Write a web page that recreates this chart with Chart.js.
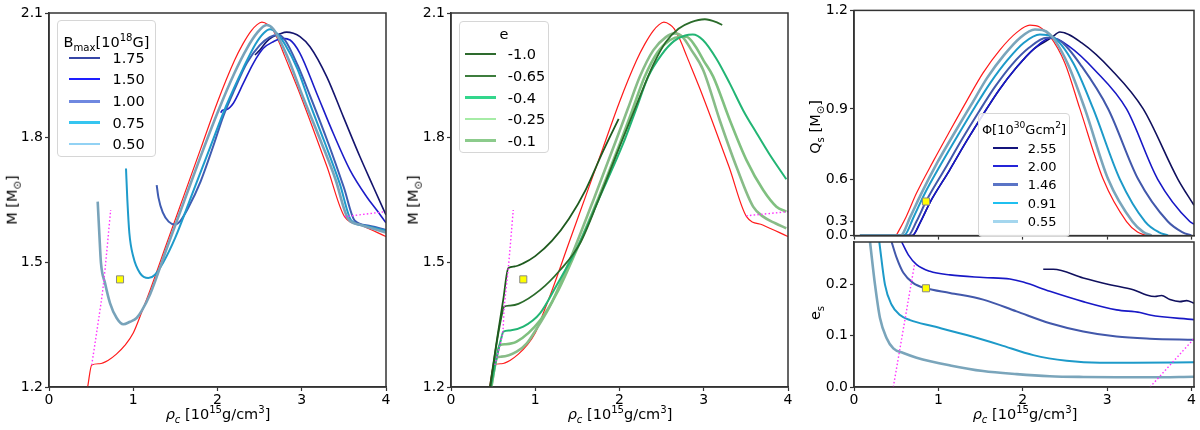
<!DOCTYPE html>
<html lang="en">
<head>
<meta charset="UTF-8">
<title>M, Qs and es versus central density</title>
<script src="https://cdn.jsdelivr.net/npm/chart.js"></script>
<style>
  html, body { margin: 0; padding: 0; background: #fff; }
  body { font-family: "DejaVu Sans", sans-serif; color: #000; }
  #fig { position: relative; width: 1200px; height: 430px; overflow: hidden; }
  #fig canvas { position: absolute; }
  .lbl { position: absolute; font-size: 14.5px; white-space: nowrap; line-height: 1; }
  .ylbl { transform: translate(-50%, -50%) rotate(-90deg); }
  .xlbl { transform: translate(-50%, -50%); }
  sub, sup { font-size: 70%; line-height: 0; }
  .legend { position: absolute; background: rgba(255,255,255,0.85); border: 1px solid #d6d6d6; border-radius: 4px; box-sizing: border-box; }
  .legend .title { position: absolute; left: 0; right: 0; text-align: center; line-height: 1; transform: translateY(-50%); white-space: nowrap; }
  .legend .sw { position: absolute; }
  .legend .txt { position: absolute; line-height: 1; transform: translateY(-50%); }
</style>
</head>
<body>
<div id="fig">
  <canvas id="c1" width="400" height="430" style="left:0;top:0"></canvas>
  <canvas id="c2" width="400" height="430" style="left:400px;top:0"></canvas>
  <canvas id="c3" width="400" height="246" style="left:800px;top:0"></canvas>
  <canvas id="c4" width="400" height="200" style="left:800px;top:230px"></canvas>

  <div class="lbl ylbl" style="left:12px;top:200px">M [M<sub>⊙</sub>]</div>
  <div class="lbl ylbl" style="left:413px;top:200px">M [M<sub>⊙</sub>]</div>
  <div class="lbl ylbl" style="left:815px;top:127px">Q<sub>s</sub> [M<sub>⊙</sub>]</div>
  <div class="lbl ylbl" style="left:815px;top:313px">e<sub>s</sub></div>
  <div class="lbl xlbl" style="left:218px;top:414px"><i>ρ<sub>c</sub></i> [10<sup>15</sup>g/cm<sup>3</sup>]</div>
  <div class="lbl xlbl" style="left:620px;top:414px"><i>ρ<sub>c</sub></i> [10<sup>15</sup>g/cm<sup>3</sup>]</div>
  <div class="lbl xlbl" style="left:1025px;top:414px"><i>ρ<sub>c</sub></i> [10<sup>15</sup>g/cm<sup>3</sup>]</div>
</div>

<script>
// ---- ticks / legend labels ----
const rhoTicks = [0, 1, 2, 3, 4];
const mTicks = [1.2, 1.5, 1.8, 2.1];
const qTicks = [0, 0.3, 0.6, 0.9, 1.2];
const esTicks = [0, 0.1, 0.2];
const bLabels = ['1.75', '1.50', '1.00', '0.75', '0.50'];
const eLabels = ['-1.0', '-0.65', '-0.4', '-0.25', '-0.1'];
const phiLabels = ['2.55', '2.00', '1.46', '0.91', '0.55'];

// ---- red reference curve (M vs rho_c), panels 1 and 2 ----
const rhoRed = [0.459,0.507,0.6,0.7,0.8,0.9,1.0,1.1,1.2,1.4,1.6,1.8,2.0,2.2,2.3,2.4,2.47,2.527,2.6,2.65,2.72,2.8,2.95,3.1,3.3,3.508,3.7,4.0];
const mRed   = [1.200,1.253,1.256,1.264,1.279,1.300,1.330,1.380,1.433,1.547,1.660,1.773,1.886,1.985,2.025,2.057,2.072,2.078,2.072,2.062,2.035,1.995,1.920,1.840,1.730,1.610,1.590,1.562];

// ---- panel 1: B_max curves ----
const rhoB050 = [0.578,0.597,0.617,0.665,0.724,0.803,0.882,0.961,1.04,1.1,1.2,1.4,1.6,1.8,2.0,2.2,2.35,2.47,2.584,2.66,2.72,2.85,3.0,3.237,3.4,3.55,3.7,4.0];
const mB050   = [1.646,1.570,1.498,1.450,1.402,1.366,1.351,1.357,1.366,1.383,1.423,1.535,1.645,1.755,1.860,1.955,2.015,2.052,2.071,2.062,2.042,1.985,1.905,1.786,1.700,1.605,1.590,1.572];
const rhoB075 = [0.914,0.93,0.954,1.0,1.08,1.179,1.258,1.357,1.5,1.7,1.9,2.1,2.3,2.45,2.55,2.624,2.7,2.8,2.95,3.1,3.277,3.45,3.59,3.75,4.0];
const mB075   = [1.726,1.650,1.570,1.514,1.474,1.462,1.470,1.500,1.560,1.665,1.770,1.875,1.965,2.025,2.052,2.061,2.052,2.025,1.965,1.880,1.786,1.690,1.600,1.588,1.576];
const rhoB100 = [1.278,1.30,1.35,1.42,1.497,1.56,1.65,1.8,1.95,2.069,2.2,2.35,2.5,2.62,2.723,2.8,2.95,3.1,3.316,3.5,3.63,3.8,4.0];
const mB100   = [1.686,1.655,1.620,1.598,1.591,1.600,1.630,1.695,1.780,1.852,1.915,1.980,2.022,2.042,2.047,2.035,1.975,1.900,1.786,1.680,1.600,1.588,1.578];
const rhoB150 = [2.038,2.06,2.109,2.188,2.307,2.425,2.544,2.663,2.774,2.861,2.979,3.177,3.375,3.573,3.77,3.889,4.0];
const mB150   = [1.860,1.866,1.868,1.883,1.931,1.979,2.015,2.031,2.039,2.035,2.003,1.907,1.810,1.722,1.658,1.626,1.595];
const rhoB175 = [2.445,2.5,2.583,2.65,2.742,2.82,2.9,2.979,3.098,3.296,3.494,3.691,3.849,4.0];
const mB175   = [1.999,2.010,2.031,2.042,2.050,2.054,2.051,2.043,2.019,1.947,1.850,1.754,1.682,1.614];
const rhoDotL1 = [0.507,0.567,0.645,0.732];
const mDotL1   = [1.253,1.333,1.445,1.626];
const rhoDotR1 = [3.51,4.0];
const mDotR1   = [1.610,1.622];

// ---- panel 2: e curves ----
const rhoE100 = [0.462,0.55,0.62,0.68,0.75,0.85,1.0,1.2,1.4,1.6,1.8,1.99];
const mE100   = [1.200,1.320,1.410,1.486,1.490,1.497,1.515,1.552,1.605,1.675,1.765,1.845];
const rhoE065 = [0.468,0.53,0.60,0.629,0.7,0.8,1.056,1.293,1.53,1.75,2.0,2.2,2.4,2.55,2.7,2.85,3.013,3.15,3.219];
const mE065   = [1.200,1.290,1.370,1.393,1.396,1.400,1.433,1.481,1.545,1.650,1.778,1.878,1.975,2.030,2.062,2.078,2.085,2.078,2.071];
const rhoE040 = [0.472,0.54,0.60,0.621,0.7,0.858,1.056,1.254,1.51,1.75,2.044,2.2,2.341,2.5,2.65,2.78,2.87,2.99,3.15,3.31,3.47,3.63,3.78,3.98];
const mE040   = [1.200,1.270,1.320,1.333,1.336,1.345,1.377,1.445,1.540,1.650,1.786,1.870,1.947,2.000,2.033,2.046,2.048,2.035,1.990,1.930,1.865,1.810,1.760,1.700];
const rhoE025 = [0.476,0.54,0.581,0.65,0.779,1.056,1.254,1.48,1.75,2.005,2.15,2.30,2.45,2.6,2.72,2.795,2.9,3.0,3.112,3.31,3.507,3.705,3.863,3.98];
const mE025   = [1.200,1.270,1.301,1.303,1.309,1.360,1.425,1.525,1.655,1.786,1.865,1.947,2.005,2.035,2.043,2.043,2.020,1.985,1.947,1.842,1.746,1.674,1.634,1.622];
const rhoE010 = [0.48,0.52,0.542,0.6,0.779,0.9,1.0,1.2,1.45,1.7,1.945,2.1,2.242,2.4,2.55,2.657,2.75,2.85,2.993,3.19,3.388,3.586,3.705,3.85,3.98];
const mE010   = [1.200,1.250,1.271,1.273,1.285,1.305,1.335,1.405,1.525,1.655,1.786,1.870,1.947,2.010,2.042,2.051,2.042,2.012,1.963,1.842,1.730,1.634,1.610,1.594,1.582];
const rhoDotL2 = [0.52,0.542,0.581,0.615,0.632,0.68,0.739];
const mDotL2   = [1.253,1.271,1.301,1.333,1.393,1.486,1.626];
const rhoDotR2 = [3.506,4.0];
const mDotR2   = [1.612,1.622];

// ---- panel 3 top: Q_s curves ----
const rhoQRed = [0.50,0.62,0.74,0.94,1.14,1.34,1.53,1.73,1.93,2.085,2.2,2.32,2.5,2.678,2.954,3.23,3.36,3.467];
const qRed    = [0,0.35,0.52,0.69,0.82,0.93,1.02,1.09,1.14,1.16,1.155,1.13,1.05,0.90,0.60,0.30,0.15,0];
const rhoQ055 = [0.07,0.55,0.67,0.79,0.99,1.19,1.39,1.58,1.78,1.97,2.145,2.32,2.53,2.737,3.013,3.30,3.43,3.527];
const q055    = [0,0,0.35,0.51,0.685,0.81,0.915,1.005,1.075,1.125,1.148,1.135,1.05,0.90,0.60,0.30,0.15,0];
const rhoQ091 = [0.07,0.59,0.71,0.83,1.03,1.23,1.43,1.62,1.82,2.01,2.204,2.35,2.6,2.836,3.152,3.45,3.61,3.724];
const q091    = [0,0,0.35,0.51,0.675,0.80,0.905,0.99,1.06,1.11,1.134,1.128,1.05,0.90,0.60,0.30,0.15,0];
const rhoQ146 = [0.07,0.64,0.74,0.853,1.08,1.28,1.48,1.67,1.87,2.07,2.283,2.45,2.7,3.013,3.369,3.72,3.89,4.0];
const q146    = [0,0,0.30,0.467,0.655,0.785,0.89,0.975,1.045,1.095,1.125,1.115,1.04,0.90,0.60,0.30,0.15,0];
const rhoQ200 = [0.07,0.69,0.79,0.90,1.13,1.33,1.53,1.72,1.92,2.12,2.342,2.55,2.85,3.23,3.60,3.98,4.03];
const q200    = [0,0,0.30,0.46,0.645,0.775,0.88,0.965,1.035,1.09,1.125,1.10,1.03,0.90,0.60,0.30,0.27];
const rhoQ255 = [0.07,0.69,0.79,0.90,1.13,1.33,1.53,1.72,1.92,2.12,2.342,2.44,2.7,3.05,3.428,3.84,4.03];
const q255    = [0,0,0.30,0.46,0.645,0.775,0.88,0.965,1.035,1.09,1.125,1.141,1.11,1.03,0.90,0.60,0.44];

// ---- panel 3 bottom: e_s curves ----
const rhoS055 = [0.19,0.249,0.308,0.387,0.466,0.585,0.742,1.14,1.53,1.93,2.32,2.72,3.11,3.5,4.03];
const s055    = [0.282,0.199,0.134,0.095,0.075,0.066,0.057,0.042,0.031,0.025,0.021,0.0195,0.019,0.019,0.020];
const rhoS091 = [0.30,0.367,0.446,0.545,0.664,0.94,1.335,1.73,2.125,2.52,2.915,3.31,4.03];
const s091    = [0.282,0.199,0.160,0.140,0.130,0.118,0.101,0.082,0.062,0.051,0.047,0.047,0.048];
const rhoS146 = [0.446,0.506,0.585,0.703,0.853,1.137,1.532,1.927,2.322,2.717,3.112,3.507,4.03];
const s146    = [0.282,0.251,0.222,0.202,0.192,0.183,0.170,0.147,0.124,0.108,0.098,0.094,0.092];
const rhoS200 = [0.565,0.644,0.742,0.90,1.137,1.532,1.848,2.006,2.322,2.717,3.112,3.39,3.507,4.03];
const s200    = [0.282,0.257,0.238,0.225,0.218,0.213,0.210,0.204,0.186,0.166,0.150,0.145,0.140,0.131];
const rhoS255 = [2.243,2.362,2.717,3.033,3.31,3.468,3.566,3.645,3.744,3.863,3.942,4.03];
const s255    = [0.229,0.229,0.212,0.199,0.189,0.179,0.176,0.178,0.170,0.166,0.168,0.163];
const rhoDotL4 = [0.466,0.72];
const sDotL4   = [0,0.241];
const rhoDotR4 = [3.51,4.03];
const sDotR4   = [0,0.094];

// yellow markers: panel 1, panel 2, panel 3 top, panel 3 bottom
const markRho = [0.843, 0.858, 0.853, 0.853];
const markVal = [1.459, 1.459, 0.467, 0.192];

// ---------------------------------------------------------------
// y axis of the Q_s panel is quadratic (position ~ Q^2)
class SquareScale extends Chart.LinearScale {
  getPixelForValue(value) {
    const hi = this.max * this.max, lo = this.min * this.min;
    return this.getPixelForDecimal((value * value - lo) / (hi - lo));
  }
  getValueForPixel(pixel) {
    const d = this.getDecimalForPixel(pixel);
    return Math.sqrt(this.min * this.min + d * (this.max * this.max - this.min * this.min));
  }
}
SquareScale.id = 'square';
SquareScale.defaults = Chart.LinearScale.defaults;
Chart.register(SquareScale);

const framePlugin = {
  id: 'frame',
  afterDraw(chart) {
    const a = chart.chartArea, ctx = chart.ctx;
    ctx.save();
    ctx.strokeStyle = '#333';
    ctx.lineWidth = 1.5;
    ctx.strokeRect(a.left, a.top, a.right - a.left, a.bottom - a.top);
    ctx.restore();
  }
};

const tickFont = { family: 'DejaVu Sans', size: 14 };

function pts(xs, ys) {
  return xs.map((x, i) => ({ x: x, y: ys[i] }));
}
function curve(xs, ys, color, width) {
  return { data: pts(xs, ys), borderColor: color, borderWidth: width, pointRadius: 0,
           showLine: true, fill: false, cubicInterpolationMode: 'monotone' };
}
function dotted(xs, ys) {
  return { data: pts(xs, ys), borderColor: '#ff33ff', borderWidth: 1.4, borderDash: [1.5, 2.2],
           pointRadius: 0, showLine: true, fill: false, tension: 0.3 };
}
function marker(i) {
  return { data: [{ x: markRho[i], y: markVal[i] }], showLine: false, pointStyle: 'rect',
           pointRadius: 5, pointBackgroundColor: '#ffff00', pointBorderColor: '#888', pointBorderWidth: 1 };
}

function xAxis(max, labels, height) {
  return {
    type: 'linear', min: 0, max: max,
    afterBuildTicks: s => { s.ticks = rhoTicks.map(v => ({ value: v })); },
    afterFit: s => { s.height = height; },
    ticks: { display: labels, color: '#000', font: tickFont, padding: 1, maxRotation: 0, autoSkip: false,
             callback: v => String(v) },
    grid: { drawOnChartArea: false, tickLength: 4, tickColor: '#333', tickWidth: 1.2 },
    border: { color: '#333', width: 1.5 }
  };
}
function yAxis(type, min, max, ticks, width, digits) {
  return {
    type: type, min: min, max: max,
    afterBuildTicks: s => { s.ticks = ticks.map(v => ({ value: v })); },
    afterFit: s => { s.width = width; },
    ticks: { color: '#000', font: tickFont, padding: 2, autoSkip: false, callback: v => v.toFixed(digits) },
    grid: { drawOnChartArea: false, tickLength: 4, tickColor: '#333', tickWidth: 1.2 },
    border: { color: '#333', width: 1.5 }
  };
}
function makeChart(id, datasets, x, y, padding) {
  return new Chart(document.getElementById(id), {
    type: 'scatter',
    data: { datasets: datasets },
    options: {
      responsive: false, animation: false, events: [], devicePixelRatio: 1,
      layout: { padding: padding },
      plugins: { legend: { display: false }, tooltip: { enabled: false } },
      scales: { x: x, y: y }
    },
    plugins: [framePlugin]
  });
}

// panel 1
makeChart('c1', [
  marker(0),
  dotted(rhoDotL1, mDotL1),
  dotted(rhoDotR1, mDotR1),
  curve(rhoB050, mB050, '#78a3ba', 2.6),
  curve(rhoB075, mB075, '#1e9bcb', 2.0),
  curve(rhoB100, mB100, '#3f5cb2', 2.0),
  curve(rhoB150, mB150, '#1c1cc8', 1.6),
  curve(rhoB175, mB175, '#14146e', 1.6),
  curve(rhoRed, mRed, '#ff1a1a', 1.2)
], xAxis(4, true, 43), yAxis('linear', 1.2, 2.1, mTicks, 49, 1), { top: 13, right: 14, left: 0, bottom: 0 });

// panel 2
makeChart('c2', [
  marker(1),
  dotted(rhoDotL2, mDotL2),
  dotted(rhoDotR2, mDotR2),
  curve(rhoE100, mE100, '#1e5a1e', 1.8),
  curve(rhoE065, mE065, '#2a6b2a', 1.8),
  curve(rhoE040, mE040, '#22b574', 2.0),
  curve(rhoE025, mE025, '#80c080', 2.6),
  curve(rhoE010, mE010, '#88bc88', 2.6),
  curve(rhoRed, mRed, '#ff1a1a', 1.2)
], xAxis(4, true, 43), yAxis('linear', 1.2, 2.1, mTicks, 51, 1), { top: 13, right: 12, left: 0, bottom: 0 });

// panel 3 top (Q_s)
makeChart('c3', [
  marker(2),
  curve(rhoQ055, q055, '#7aa5bb', 2.6),
  curve(rhoQ091, q091, '#1d9ac9', 2.0),
  curve(rhoQ146, q146, '#4258ab', 2.0),
  curve(rhoQ200, q200, '#1818c6', 1.6),
  curve(rhoQ255, q255, '#10105e', 1.6),
  curve(rhoQRed, qRed, '#ff1a1a', 1.2)
], xAxis(4.03, false, 8), yAxis('square', 0, 1.2, qTicks, 54, 1), { top: 9, right: 6, left: 0, bottom: 0 });

// panel 3 bottom (e_s)
makeChart('c4', [
  marker(3),
  dotted(rhoDotL4, sDotL4),
  dotted(rhoDotR4, sDotR4),
  curve(rhoS055, s055, '#7aa5bb', 2.6),
  curve(rhoS091, s091, '#1d9ac9', 2.0),
  curve(rhoS146, s146, '#4258ab', 2.0),
  curve(rhoS200, s200, '#1818c6', 1.6),
  curve(rhoS255, s255, '#10105e', 1.6)
], xAxis(4.03, true, 43), yAxis('linear', 0, 0.282, esTicks, 54, 1), { top: 12, right: 6, left: 0, bottom: 0 });

// ---- html legends ----
function legend(o) {
  const box = document.createElement('div');
  box.className = 'legend';
  Object.assign(box.style, { left: o.left + 'px', top: o.top + 'px', width: o.w + 'px', height: o.h + 'px' });
  const t = document.createElement('div');
  t.className = 'title';
  t.style.top = o.titleY + 'px';
  t.style.fontSize = o.font + 'px';
  t.innerHTML = o.title;
  box.appendChild(t);
  o.labels.forEach((lab, i) => {
    const cy = o.rowY + i * o.gap;
    const sw = document.createElement('div');
    sw.className = 'sw';
    Object.assign(sw.style, { left: o.swX + 'px', width: o.swW + 'px',
      top: Math.round(cy - o.widths[i] / 2) + 'px', height: o.widths[i] + 'px', background: o.colors[i] });
    box.appendChild(sw);
    const tx = document.createElement('div');
    tx.className = 'txt';
    Object.assign(tx.style, { left: o.txtX + 'px', top: cy + 'px', fontSize: o.font + 'px' });
    tx.textContent = lab;
    box.appendChild(tx);
  });
  document.getElementById('fig').appendChild(box);
}

legend({ left: 57, top: 20, w: 99, h: 137, font: 14.5, title: 'B<sub>max</sub>[10<sup>18</sup>G]', titleY: 21,
  rowY: 36.7, gap: 21.67, swX: 11, swW: 31, txtX: 54.5, labels: bLabels,
  colors: ['#3646a6', '#1e1eff', '#6f88e0', '#35c5f0', '#92d2f4'], widths: [2, 2, 3, 3, 2] });
legend({ left: 459, top: 21, w: 90, h: 132, font: 14.5, title: 'e', titleY: 11.5,
  rowY: 32.3, gap: 21.67, swX: 5.3, swW: 30.7, txtX: 47.7, labels: eLabels,
  colors: ['#2e6b2e', '#3d7d3d', '#33d68c', '#a6eca6', '#8ccb8c'], widths: [2, 2, 3, 2, 3] });
legend({ left: 978, top: 113, w: 92, h: 124, font: 13, title: 'Φ[10<sup>30</sup>Gcm<sup>2</sup>]', titleY: 15,
  rowY: 33.7, gap: 18.33, swX: 13.7, swW: 25, txtX: 48.7, labels: phiLabels,
  colors: ['#14147c', '#2424d8', '#5a74c6', '#1fc0f0', '#a4d6ee'], widths: [2, 2, 3, 2, 3] });
</script>
</body>
</html>
